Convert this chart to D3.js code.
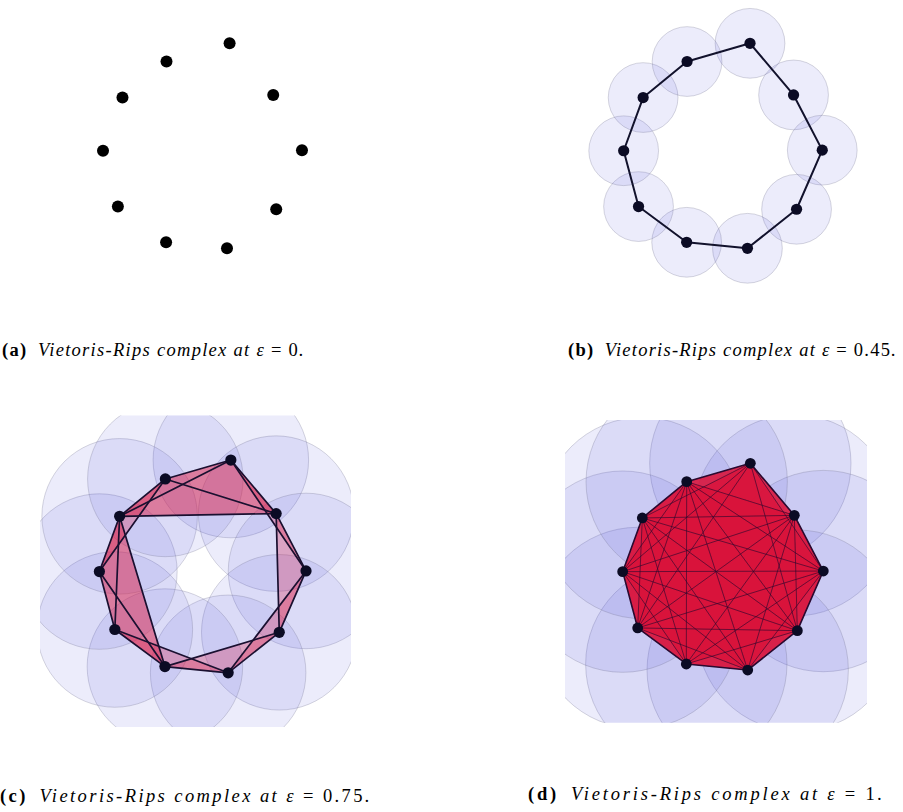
<!DOCTYPE html>
<html>
<head>
<meta charset="utf-8">
<script src="https://cdn.jsdelivr.net/npm/d3@7"></script>
<style>
  html, body { margin: 0; padding: 0; background: #fff; }
  svg { display: block; }
</style>
</head>
<body>
<svg id="fig" width="903" height="812"></svg>
<script>
// Point cloud: ten noisy samples from a unit circle
const pointX = [0.341, 0.778, 1.066, 0.808, 0.315, -0.295, -0.778, -0.927, -0.732, -0.291];
const pointY = [1.071, 0.555, 0.003, -0.588, -0.978, -0.918, -0.561, -0.003, 0.529, 0.889];

// One panel per filtration value
const panelIds = ["a", "b", "c", "d"];
const epsilonLabels = ["0", "0.45", "0.75", "1"];
const ballRadius = [0, 0.35, 0.75, 1];

// 1-simplices of each complex (index pairs into the point cloud)
const edgesA = [];
const edgesB = [[0,1],[1,2],[2,3],[3,4],[4,5],[5,6],[6,7],[7,8],[8,9],[9,0]];
const edgesC = [[0,1],[1,2],[2,3],[3,4],[4,5],[5,6],[6,7],[7,8],[8,9],[9,0],
                [0,2],[1,3],[2,4],[3,5],[4,6],[5,7],[6,8],[7,9],[8,0],[9,1],
                [8,1],[5,8]];
// at eps = 1 every pair is joined except these
const missingEdgesD = [[0,4],[0,5]];

const domain = [-1.5, 1.5];

// panel frames on the page
const frames = [
  {x0: 45.8,  x1: 345.3, y0: 0.4,   y1: 300.5},
  {x0: 566.6, x1: 865.5, y0: 0.4,   y1: 300.5},
  {x0: 40,    x1: 351,   y0: 415.5, y1: 727},
  {x0: 565,   x1: 867,   y0: 420,   y1: 722.7}
];
const captionPos = [
  {x: 2,   y: 356},
  {x: 568, y: 356},
  {x: 0,   y: 802},
  {x: 528, y: 800}
];
const captionWidth = [303, 329, 372, 357];

const n = pointX.length;
const allPairs = [];
for (let i = 0; i < n; i++) for (let j = i + 1; j < n; j++) allPairs.push([i, j]);
const key = (i, j) => i < j ? i + "-" + j : j + "-" + i;
const missD = new Set(missingEdgesD.map(e => key(e[0], e[1])));
const edgesD = allPairs.filter(e => !missD.has(key(e[0], e[1])));
const edgeSets = [edgesA, edgesB, edgesC, edgesD];

// flag complex: every 3-clique of the edge graph is a filled triangle
function triangles(edges) {
  const s = new Set(edges.map(e => key(e[0], e[1])));
  const out = [];
  for (let i = 0; i < n; i++)
    for (let j = i + 1; j < n; j++)
      for (let k = j + 1; k < n; k++)
        if (s.has(key(i, j)) && s.has(key(j, k)) && s.has(key(i, k))) out.push([i, j, k]);
  return out;
}

const styles = [
  {edgeW: 0,   edgeOp: 1,    edgeCol: "#12122c", triOp: 0.3,  pointR: 6,   pointFill: "#000000"},
  {edgeW: 2,   edgeOp: 1,    edgeCol: "#12122c", triOp: 0.3,  pointR: 5.6, pointFill: "#0b0b24"},
  {edgeW: 1.7, edgeOp: 1,    edgeCol: "#1a1030", triOp: 0.27, pointR: 5.6, pointFill: "#0b0b24"},
  {edgeW: 0.9, edgeOp: 0.7,  edgeCol: "#2a0a30", triOp: 0.3,  pointR: 5.4, pointFill: "#0b0b24"}
];

const svg = d3.select("#fig");
const defs = svg.append("defs");
const pts = d3.range(n).map(i => ({x: pointX[i], y: pointY[i]}));
const isRing = e => Math.abs(e[0] - e[1]) === 1 || Math.abs(e[0] - e[1]) === n - 1;

panelIds.forEach((id, p) => {
  const f = frames[p];
  const st = styles[p];
  const x = d3.scaleLinear().domain(domain).range([f.x0, f.x1]);
  const y = d3.scaleLinear().domain(domain).range([f.y1, f.y0]);
  const rPix = Math.abs(x(ballRadius[p]) - x(0));

  defs.append("clipPath").attr("id", "clip-" + id)
    .append("rect")
    .attr("x", f.x0).attr("y", f.y0)
    .attr("width", f.x1 - f.x0).attr("height", f.y1 - f.y0);

  const g = svg.append("g").attr("class", "panel-" + id)
    .attr("clip-path", "url(#clip-" + id + ")");

  // epsilon-balls
  if (ballRadius[p] > 0) {
    g.append("g").selectAll("circle").data(pts).join("circle")
      .attr("cx", d => x(d.x)).attr("cy", d => y(d.y))
      .attr("r", rPix)
      .attr("fill", "rgb(70,70,215)").attr("fill-opacity", 0.1)
      .attr("stroke", "rgb(110,110,140)").attr("stroke-opacity", 0.35)
      .attr("stroke-width", 0.8);
  }

  // 2-simplices
  const tris = triangles(edgeSets[p]);
  g.append("g").selectAll("path").data(tris).join("path")
    .attr("d", t => "M" + t.map(i => x(pts[i].x) + "," + y(pts[i].y)).join("L") + "Z")
    .attr("fill", "rgb(220,20,60)").attr("fill-opacity", st.triOp)
    .attr("stroke", "none");

  // 1-simplices; the ring of nearest neighbours is drawn a little heavier
  const edges = edgeSets[p];
  g.append("g").selectAll("line").data(edges).join("line")
    .attr("x1", e => x(pts[e[0]].x)).attr("y1", e => y(pts[e[0]].y))
    .attr("x2", e => x(pts[e[1]].x)).attr("y2", e => y(pts[e[1]].y))
    .attr("stroke", st.edgeCol)
    .attr("stroke-opacity", e => isRing(e) ? 1 : st.edgeOp)
    .attr("stroke-width", e => isRing(e) ? Math.max(st.edgeW, 1.6) : st.edgeW)
    .attr("stroke-linecap", "round");

  // 0-simplices
  svg.append("g").selectAll("circle").data(pts).join("circle")
    .attr("cx", d => x(d.x)).attr("cy", d => y(d.y))
    .attr("r", st.pointR).attr("fill", st.pointFill);

  // caption, spaced out to the measured line width
  const c = captionPos[p];
  const t = svg.append("text")
    .attr("x", c.x).attr("y", c.y)
    .attr("font-family", "'Liberation Serif', 'DejaVu Serif', serif")
    .attr("font-size", 18.5).attr("fill", "#000");
  t.append("tspan").attr("font-weight", "bold").text("(" + id + ")");
  t.append("tspan").attr("font-style", "italic").text("\u2002Vietoris-Rips complex at ");
  t.append("tspan").attr("font-style", "italic").text("\u03B5");
  t.append("tspan").text(" = " + epsilonLabels[p]);
  t.append("tspan").attr("font-style", "italic").text(".");
  const w = t.node().getComputedTextLength();
  const chars = t.text().length;
  t.attr("letter-spacing", Math.max(0, (captionWidth[p] - w) / chars));
});
</script>
</body>
</html>
